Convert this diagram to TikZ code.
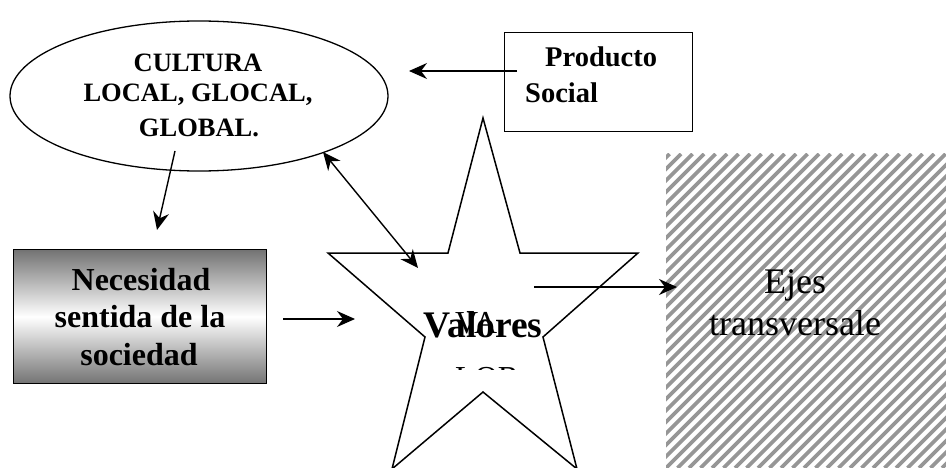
\documentclass[tikz,border=0pt]{standalone}
\usepackage{fontspec}
\setmainfont{Liberation Serif}
\usetikzlibrary{arrows.meta,shapes.geometric}

\tikzset{
  btx/.style={font=\bfseries\fontsize{#1}{#1}\selectfont, inner sep=0pt},
  rtx/.style={font=\fontsize{#1}{#1}\selectfont, inner sep=0pt},
  tip/.tip={Stealth[length=18pt,width=16pt,inset=6pt]},
  conn/.style={line width=1.4pt, -tip},
  dconn/.style={line width=1.4pt, tip-tip},
  frame/.style={draw, line width=1.4pt, inner sep=0pt},
  stripe/.style={line width=3.6pt, color={rgb,255:red,150;green,150;blue,150}},
}

\begin{document}
\begin{tikzpicture}[x=1pt,y=-1pt]
\useasboundingbox (0,0) rectangle (946,468);

% hatched panel on the right
\begin{scope}
  \clip (666,154) rectangle (946,468);
  \foreach \c in {812,823.5,...,1430}
    \draw[stripe] (\c-468,468) -- (\c-154,154);
\end{scope}
\node[rtx=36, anchor=base] (ejes1) at (795,293) {Ejes};
\node[rtx=36, anchor=base] (ejes2) at (795,335) {transversale};

% culture ellipse
\node[draw, ellipse, line width=1.3pt, minimum width=378pt, minimum height=150pt, inner sep=0pt] (cult) at (199,96) {};
\node[btx=26.5, anchor=base] (cult1) at (198,72) {CULTURA};
\node[btx=26.5, anchor=base] (cult2) at (198,102) {LOCAL, GLOCAL,};
\node[btx=26.5, anchor=base] (cult3) at (199,137) {GLOBAL.};

% product box
\node[frame, minimum width=188pt, minimum height=99pt, anchor=north west] (prod) at (504,32) {};
\node[btx=28.5, anchor=base west] (prod1) at (545,67) {Producto};
\node[btx=28.5, anchor=base west] (prod2) at (525,103) {Social};

% need box with grey gradient
\node[frame, top color=black!55, bottom color=black!55, middle color=white,
      minimum width=253pt, minimum height=134pt, anchor=north west] (nec) at (13,249) {};
\node[btx=32, anchor=base] (nec1) at (141,290) {Necesidad};
\node[btx=32, anchor=base] (nec2) at (140,327) {sentida de la};
\node[btx=32, anchor=base] (nec3) at (139,365) {sociedad};

% star of values
\coordinate (s1) at (483,118);
\coordinate (s2) at (520,253);
\coordinate (s3) at (638,253);
\coordinate (s4) at (543,337);
\coordinate (s5) at (577,469);
\coordinate (s6) at (483,392);
\coordinate (s7) at (392,469);
\coordinate (s8) at (425,337);
\coordinate (s9) at (328,253);
\coordinate (s10) at (448,253);
\draw[line width=1.5pt, fill=white, line join=miter]
  (s1) -- (s2) -- (s3) -- (s4) -- (s5) -- (s6) -- (s7) -- (s8) -- (s9) -- (s10) -- cycle;
\node[btx=37.5, anchor=base] (val) at (483,337) {Valores};
\node[rtx=32, anchor=base west] (va) at (455,333) {VA};
\begin{scope}
  \clip (440,350) rectangle (540,369.5);
  \node[rtx=32, anchor=base west] (lor) at (455,388) {LOR};
\end{scope}

% connectors
\coordinate (pa) at (517,71);
\coordinate (pb) at (409,71);
\draw[conn] (pa) -- (pb);

\coordinate (ca) at (175,151);
\coordinate (cb) at (157,230);
\draw[conn] (ca) -- (cb);

\coordinate (na) at (283,319);
\coordinate (nb) at (355,319);
\draw[conn] (na) -- (nb);

\coordinate (da) at (323,152);
\coordinate (db) at (418,268);
\draw[dconn] (da) -- (db);

\coordinate (ea) at (534,287);
\coordinate (eb) at (677,287);
\draw[conn] (ea) -- (eb);
\end{tikzpicture}
\end{document}
